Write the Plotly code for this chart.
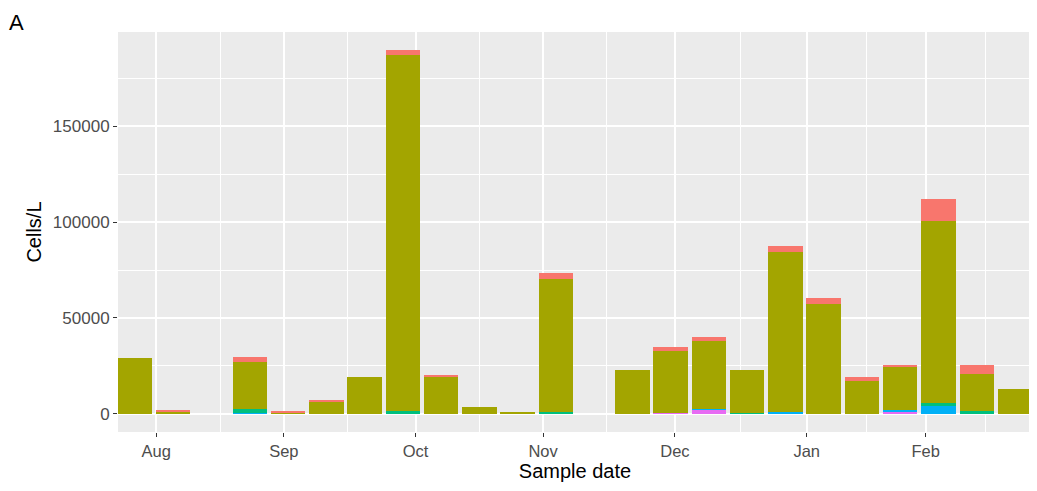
import plotly.graph_objects as go

# Sample dates (every 9 days; two sampling slots missing)
dates = ["2018-07-27", "2018-08-05", "2018-08-23", "2018-09-01", "2018-09-10",
         "2018-09-19", "2018-09-28", "2018-10-07", "2018-10-16", "2018-10-25",
         "2018-11-03", "2018-11-21", "2018-11-30", "2018-12-09", "2018-12-18",
         "2018-12-27", "2019-01-05", "2019-01-14", "2019-01-23", "2019-02-01",
         "2019-02-10", "2019-02-19"]

# Cells/L per group (stack order bottom -> top: group5, group4, group3, group2, group1)
group1 = [0, 900, 2400, 300, 400, 0, 2800, 500, 0, 0, 2900, 0, 2000, 2100, 0,
          3500, 2800, 2000, 1500, 11700, 4700, 0]
group2 = [28900, 1200, 24700, 900, 6600, 19300, 185600, 19300, 3300, 1100, 69600,
          22800, 32500, 35600, 22200, 83500, 57500, 17300, 22200, 95100, 19600, 12700]
group3 = [0, 0, 2000, 0, 0, 0, 1600, 0, 0, 0, 900, 0, 0, 0, 600,
          0, 0, 0, 0, 1400, 1400, 0]
group4 = [0, 0, 300, 0, 0, 0, 0, 0, 0, 0, 0, 0, 0, 400, 0,
          400, 0, 0, 1200, 4000, 0, 0]
group5 = [0, 0, 0, 0, 0, 0, 0, 0, 0, 0, 0, 0, 400, 2000, 0,
          300, 0, 0, 800, 0, 0, 0]

group_names = ["Group 1", "Group 2", "Group 3", "Group 4", "Group 5"]
group_colors = ["#F8766D", "#A3A500", "#00BF7D", "#00B0F6", "#E76BF3"]

# Axis breaks
month_ticks = ["2018-08-01", "2018-08-31", "2018-10-01", "2018-10-31",
               "2018-12-01", "2019-01-01", "2019-01-29"]
month_labels = ["Aug", "Sep", "Oct", "Nov", "Dec", "Jan", "Feb"]
minor_x = ["2018-08-16", "2018-09-15", "2018-10-16", "2018-11-15",
           "2018-12-16 12:00", "2019-01-15", "2019-02-12"]
y_major = [0, 50000, 100000, 150000]
y_minor = [25000, 75000, 125000, 175000]

bar_width_ms = 8.1 * 86400000

fig = go.Figure()
series = [group1, group2, group3, group4, group5]
for name, vals, col in reversed(list(zip(group_names, series, group_colors))):
    fig.add_trace(go.Bar(x=dates, y=vals, name=name, width=bar_width_ms,
                         marker=dict(color=col, line=dict(width=0))))

font_family = "Liberation Sans, Arial, sans-serif"
# page body has an 8px margin, so the figure is sized/offset to compensate
fig.update_layout(
    width=1029, height=483,
    barmode="stack",
    showlegend=False,
    paper_bgcolor="white",
    plot_bgcolor="#EBEBEB",
    margin=dict(l=110, r=5, t=24, b=59, autoexpand=False),
    font=dict(family=font_family, color="#4D4D4D"),
    xaxis=dict(
        type="date", automargin=False,
        range=["2018-07-23", "2019-02-23"],
        tickmode="array", tickvals=month_ticks, ticktext=month_labels,
        ticks="outside", ticklen=4, tickwidth=1.3, tickcolor="#333333",
        tickfont=dict(size=16.5, color="#4D4D4D", family=font_family),
        showgrid=True, gridcolor="white", gridwidth=1.8,
        minor=dict(tickvals=minor_x, showgrid=True, gridcolor="white", gridwidth=1, ticks=""),
        zeroline=False, showline=False,
        title=dict(text="Sample date", font=dict(size=20, color="black", family=font_family), standoff=2),
    ),
    yaxis=dict(
        automargin=False,
        range=[-9500, 199200],
        tickmode="array", tickvals=y_major, ticktext=[str(v) for v in y_major],
        ticks="outside", ticklen=4, tickwidth=1.3, tickcolor="#333333",
        tickfont=dict(size=17, color="#4D4D4D", family=font_family),
        showgrid=True, gridcolor="white", gridwidth=1.8,
        minor=dict(tickvals=y_minor, showgrid=True, gridcolor="white", gridwidth=1, ticks=""),
        zeroline=False, showline=False,
        title=dict(text="Cells/L", font=dict(size=20, color="black", family=font_family), standoff=5),
    ),
)
fig.add_annotation(text="A", xref="paper", yref="paper", x=-0.121, y=1.06,
                   xanchor="left", yanchor="top", showarrow=False,
                   font=dict(size=22, color="black", family=font_family))

fig.write_html("out.html")
